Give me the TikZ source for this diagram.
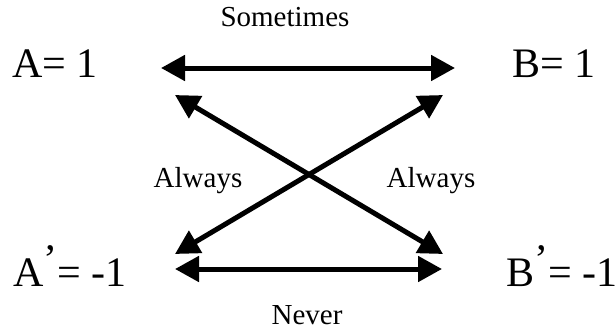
\documentclass[tikz,border=0pt]{standalone}
\usepackage{fontspec}
\setmainfont{Liberation Serif}
\usetikzlibrary{arrows.meta}
\begin{document}
\begin{tikzpicture}[x=1pt,y=-1pt,
  big/.style={font=\fontsize{42}{46}\selectfont, inner sep=0pt, anchor=base west},
  lbl/.style={font=\fontsize{29}{32}\selectfont, inner sep=0pt, anchor=base},
  conn/.style={line width=5pt, {Triangle[length=24pt,width=25pt]}-{Triangle[length=24pt,width=25pt]}}]
\useasboundingbox (0,0) rectangle (616,332);
% value nodes
\node[big] (A)  at (12,77)  {A= 1};
\node[big] (B)  at (512,77) {B= 1};
\node[big] (Ap) at (13,286) {A\raisebox{13pt}{’}= -1};
\node[big] (Bp) at (506,286) {B\raisebox{13pt}{’}= -1};
% labels
\node[lbl] (s)  at (285,27)  {Sometimes};
\node[lbl] (n)  at (307,324) {Never};
\node[lbl] (al) at (198,187) {Always};
\node[lbl] (ar) at (431,187) {Always};
% arrow end points
\coordinate (t1) at (161,68);
\coordinate (t2) at (455,68);
\coordinate (b1) at (175,269);
\coordinate (b2) at (442,269);
\coordinate (d1) at (175,95);
\coordinate (d2) at (443,254);
\coordinate (e1) at (443,95);
\coordinate (e2) at (175,254);
% connectors
\draw[conn] (t1) -- (t2);
\draw[conn] (b1) -- (b2);
\draw[conn] (d1) -- (d2);
\draw[conn] (e1) -- (e2);
\end{tikzpicture}
\end{document}
